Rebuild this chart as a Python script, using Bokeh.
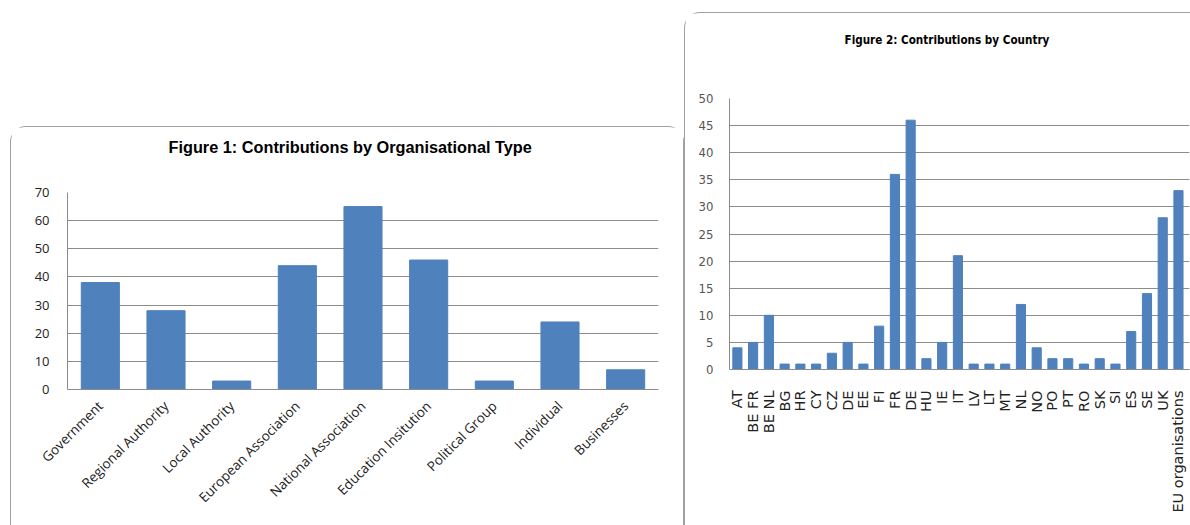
import math
from bokeh.plotting import figure
from bokeh.models import Range1d, FixedTicker, Spacer, FactorRange, Title
from bokeh.layouts import row, column
from bokeh.embed import file_html
from bokeh.resources import INLINE

# ---- data ----
org_types = ["Government", "Regional Authority", "Local Authority", "European Association",
             "National Association", "Education Insitution", "Political Group", "Individual", "Businesses"]
org_values = [38, 28, 3, 44, 65, 46, 3, 24, 7]
org_ticks = [0, 10, 20, 30, 40, 50, 60, 70]

countries = ["AT", "BE FR", "BE NL", "BG", "HR", "CY", "CZ", "DE", "EE", "FI", "FR", "DE", "HU", "IE", "IT",
             "LV", "LT", "MT", "NL", "NO", "PO", "PT", "RO", "SK", "SI", "ES", "SE", "UK", "EU organisations"]
country_values = [4, 5, 10, 1, 1, 1, 3, 5, 1, 8, 36, 46, 2, 5, 21, 1, 1, 1, 12, 4, 2, 2, 1, 2, 1, 7, 14, 28, 33]
country_ticks = [0, 5, 10, 15, 20, 25, 30, 35, 40, 45, 50]

BAR = "#4F81BD"
GRID = "#8C8C8C"

# ---- figure 1 ----
p1 = figure(width=674, height=399, x_range=FactorRange(*org_types), y_range=Range1d(0, 70),
            output_backend="svg", toolbar_location=None,
            min_border_left=56, min_border_right=27, min_border_top=65, min_border_bottom=137,
            styles={"border": "1px solid #a0a0a0", "border-bottom": "none",
                    "border-radius": "16px 16px 0 0"})
p1.vbar(x=org_types, top=org_values, width=0.58, fill_color=BAR, line_color=BAR)
p1.add_layout(Title(text=" ", text_font_size="18px"), "above")
p1.add_layout(Title(text="Figure 1: Contributions by Organisational Type", align="left", offset=101,
                    text_font="Liberation Sans", text_font_size="16.3px", text_font_style="bold",
                    text_color="#000000"), "above")
p1.outline_line_color = None
p1.xgrid.grid_line_color = None
p1.ygrid.grid_line_color = GRID
p1.yaxis.ticker = FixedTicker(ticks=org_ticks)
for ax in (p1.xaxis[0], p1.yaxis[0]):
    ax.axis_line_color = GRID
    ax.major_tick_line_color = None
    ax.minor_tick_line_color = None
p1.yaxis.major_label_text_font = "Open Sans"
p1.yaxis.major_label_text_font_size = "13px"
p1.yaxis.major_label_text_color = "#222222"
p1.yaxis.major_label_standoff = 12
p1.xaxis.major_label_orientation = math.pi / 4
p1.xaxis.major_label_text_font = "Open Sans"
p1.xaxis.major_label_text_font_size = "13.5px"
p1.xaxis.major_label_text_color = "#222222"
p1.xaxis.major_label_standoff = 8

# ---- figure 2 ----
xs = list(range(len(countries)))
p2 = figure(width=506, height=513, x_range=Range1d(-0.5, 28.7), y_range=Range1d(0, 50),
            output_backend="svg", toolbar_location=None,
            min_border_left=44, min_border_right=2, min_border_top=85, min_border_bottom=157,
            styles={"border": "1px solid #a0a0a0", "border-bottom": "none", "border-right": "none",
                    "border-radius": "16px 0 0 0"})
p2.vbar(x=xs, top=country_values, width=0.58, fill_color=BAR, line_color=BAR)
p2.add_layout(Title(text=" ", text_font_size="31px"), "above")
p2.add_layout(Title(text="Figure 2: Contributions by Country", align="left", offset=115,
                    text_font="DejaVu Sans Condensed", text_font_size="11.6px", text_font_style="bold",
                    text_color="#000000"), "above")
p2.outline_line_color = None
p2.xgrid.grid_line_color = None
p2.ygrid.grid_line_color = GRID
p2.yaxis.ticker = FixedTicker(ticks=country_ticks)
p2.xaxis.ticker = FixedTicker(ticks=xs)
p2.xaxis.major_label_overrides = {i: c for i, c in enumerate(countries)}
for ax in (p2.xaxis[0], p2.yaxis[0]):
    ax.axis_line_color = GRID
    ax.major_tick_line_color = None
    ax.minor_tick_line_color = None
p2.yaxis.major_label_text_font = "DejaVu Sans Condensed"
p2.yaxis.major_label_text_font_size = "13px"
p2.yaxis.major_label_text_color = "#555555"
p2.yaxis.major_label_standoff = 10
p2.xaxis.major_label_orientation = math.pi / 2
p2.xaxis.major_label_text_font = "DejaVu Sans"
p2.xaxis.major_label_text_font_size = "14.5px"
p2.xaxis.major_label_text_color = "#222222"
p2.xaxis.major_label_standoff = 15

layout = row(Spacer(width=10), column(Spacer(height=126), p1), column(Spacer(height=12), p2))
open("out.html", "w").write(file_html(layout, INLINE))
